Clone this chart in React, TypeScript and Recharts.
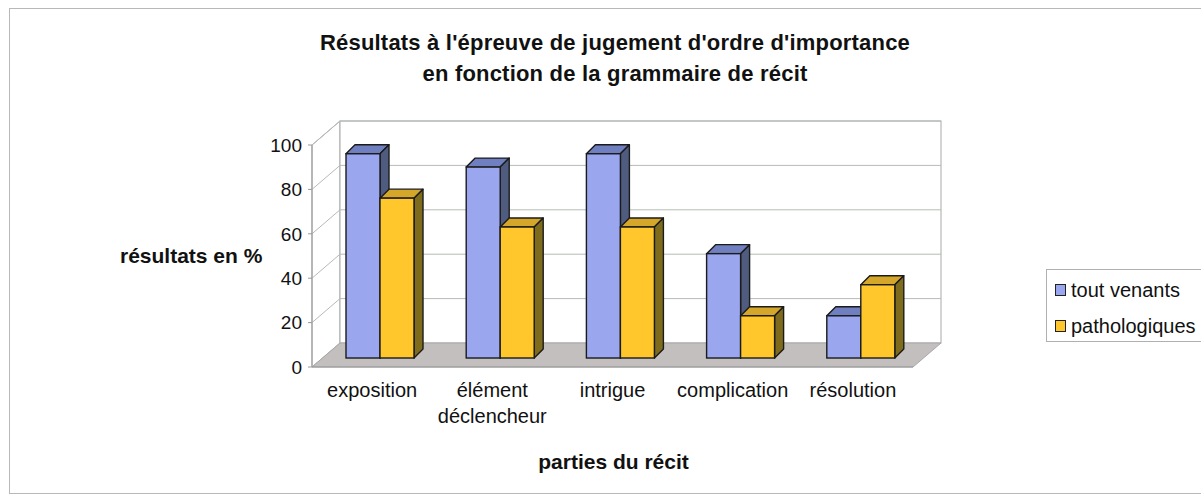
import React from "react";
import {
  BarChart,
  Bar,
  XAxis,
  YAxis,
  ReferenceArea,
} from "recharts";

const categories = ["exposition", "élément déclencheur", "intrigue", "complication", "résolution"];
const toutVenants = [92, 86, 92, 47, 19];
const pathologiques = [72, 59, 59, 19, 33];
const yTicks = [0, 20, 40, 60, 80, 100];
const seriesNames = ["tout venants", "pathologiques"];

const data = categories.map((c, i) => ({
  name: c,
  tout: toutVenants[i],
  patho: pathologiques[i],
}));

const FONT = "'Liberation Sans', Arial, sans-serif";

// depth of the chart box (front plane -> back wall)
const WALL_DX = 28;
const WALL_DY = -24;
// bars stand a little behind the front plane
const BAR_OFF_X = 8;
const BAR_OFF_Y = -9;
// depth of each bar
const BAR_DX = 9;
const BAR_DY = -9;

const palette = {
  tout: { front: "#9aa6ee", top: "#6f7fc0", side: "#4f5c80" },
  patho: { front: "#ffc72c", top: "#d4a62a", side: "#7e6c1c" },
};

function Box3D(props: any) {
  const { x, y, width, height, colors } = props;
  if (width == null || height == null) return null;
  const fx = x + BAR_OFF_X;
  const fy = y + BAR_OFF_Y;
  const stroke = "#1b1b1b";
  return (
    <g>
      <polygon
        points={`${fx},${fy} ${fx + BAR_DX},${fy + BAR_DY} ${fx + width + BAR_DX},${fy + BAR_DY} ${fx + width},${fy}`}
        fill={colors.top}
        stroke={stroke}
        strokeWidth={1.4}
        strokeLinejoin="round"
      />
      <polygon
        points={`${fx + width},${fy} ${fx + width + BAR_DX},${fy + BAR_DY} ${fx + width + BAR_DX},${fy + height + BAR_DY} ${fx + width},${fy + height}`}
        fill={colors.side}
        stroke={stroke}
        strokeWidth={1.4}
        strokeLinejoin="round"
      />
      <rect x={fx} y={fy} width={width} height={height} fill={colors.front} stroke={stroke} strokeWidth={1.4} />
    </g>
  );
}

function Walls(props: any) {
  const { x, y, width, height } = props;
  if (width == null) return null;
  const bottom = y + height;
  const right = x + width;
  const grid = "#b4bcb4";
  return (
    <g>
      {/* left side wall */}
      <polygon
        points={`${x},${y} ${x + WALL_DX},${y + WALL_DY} ${x + WALL_DX},${bottom + WALL_DY} ${x},${bottom}`}
        fill="#ffffff"
        stroke="#a8a8a8"
      />
      {/* back wall */}
      <rect
        x={x + WALL_DX}
        y={y + WALL_DY}
        width={width}
        height={height}
        fill="#ffffff"
        stroke="#a8a8a8"
      />
      {yTicks.slice(1).map((t) => {
        const ty = bottom - (height * t) / 100;
        return (
          <g key={t}>
            <line x1={x} y1={ty} x2={x + WALL_DX} y2={ty + WALL_DY} stroke={grid} />
            <line x1={x + WALL_DX} y1={ty + WALL_DY} x2={right + WALL_DX} y2={ty + WALL_DY} stroke={grid} />
          </g>
        );
      })}
      {/* floor */}
      <polygon
        points={`${x},${bottom} ${right},${bottom} ${right + WALL_DX},${bottom + WALL_DY} ${x + WALL_DX},${bottom + WALL_DY}`}
        fill="#c3bfbf"
        stroke="#a8a8a8"
      />
    </g>
  );
}

function CategoryTick(props: any) {
  const { x, y, payload } = props;
  const words = String(payload.value).split(" ");
  return (
    <text x={x} y={y + 4} textAnchor="middle" fontFamily={FONT} fontSize={20} fill="#111">
      {words.map((w, i) => (
        <tspan key={i} x={x} dy={i === 0 ? "0.9em" : "1.3em"}>
          {w}
        </tspan>
      ))}
    </text>
  );
}

function LegendBox() {
  const items = [
    { label: seriesNames[0], c: palette.tout },
    { label: seriesNames[1], c: palette.patho },
  ];
  return (
    <div
      style={{
        position: "absolute",
        left: 1046,
        top: 269,
        width: 170,
        height: 73,
        border: "1px solid #b0b0b0",
        boxSizing: "border-box",
        padding: "6px 0 0 8px",
        fontFamily: FONT,
        fontSize: 20,
        color: "#111",
        background: "#fff",
      }}
    >
      {items.map((it) => (
        <div key={it.label} style={{ display: "flex", alignItems: "center", height: 28, marginBottom: 8 }}>
          <span
            style={{
              display: "inline-block",
              width: 9,
              height: 10,
              background: it.c.front,
              border: "1.5px solid #222",
              marginRight: 5,
            }}
          />
          {it.label}
        </div>
      ))}
    </div>
  );
}

export default function App() {
  return (
    <div
      style={{
        position: "absolute",
        left: 0,
        top: 0,
        width: 1201,
        height: 499,
        background: "#fff",
        fontFamily: FONT,
        overflow: "hidden",
      }}
    >
      <div
        style={{
          position: "absolute",
          left: 9,
          top: 8,
          width: 1200,
          height: 486,
          border: "1px solid #b8b8b8",
          boxSizing: "border-box",
        }}
      />
      <BarChart
        width={1201}
        height={499}
        data={data}
        margin={{ top: 145, right: 288, bottom: 102, left: 252 }}
        barSize={34}
        barGap={0}
        style={{ position: "absolute", left: 0, top: 0 }}
      >
        <ReferenceArea y1={0} y2={100} shape={<Walls />} ifOverflow="visible" />
        <XAxis
          dataKey="name"
          height={30}
          axisLine={{ stroke: "#999" }}
          tickLine={false}
          tick={<CategoryTick />}
          interval={0}
        />
        <YAxis
          width={60}
          domain={[0, 100]}
          ticks={yTicks}
          axisLine={{ stroke: "#999" }}
          tickLine={{ stroke: "#999" }}
          tickSize={4}
          tickMargin={6}
          tick={{ fill: "#111", fontSize: 19, fontFamily: FONT }}
        />
        <Bar
          dataKey="tout"
          name={seriesNames[0]}
          isAnimationActive={false}
          shape={(p: any) => <Box3D {...p} colors={palette.tout} />}
        />
        <Bar
          dataKey="patho"
          name={seriesNames[1]}
          isAnimationActive={false}
          shape={(p: any) => <Box3D {...p} colors={palette.patho} />}
        />
      </BarChart>
      <div
        style={{
          position: "absolute",
          left: 0,
          top: 27,
          width: 1230,
          textAlign: "center",
          fontWeight: "bold",
          fontSize: 22,
          letterSpacing: 0.2,
          lineHeight: "31px",
          color: "#111",
        }}
      >
        Résultats à l'épreuve de jugement d'ordre d'importance
        <br />
        en fonction de la grammaire de récit
      </div>
      <div
        style={{
          position: "absolute",
          left: 120,
          top: 244,
          fontWeight: "bold",
          fontSize: 21,
          color: "#111",
        }}
      >
        résultats en %
      </div>
      <div
        style={{
          position: "absolute",
          left: 0,
          top: 450,
          width: 1227,
          textAlign: "center",
          fontWeight: "bold",
          fontSize: 21,
          color: "#111",
        }}
      >
        parties du récit
      </div>
      <LegendBox />
    </div>
  );
}
